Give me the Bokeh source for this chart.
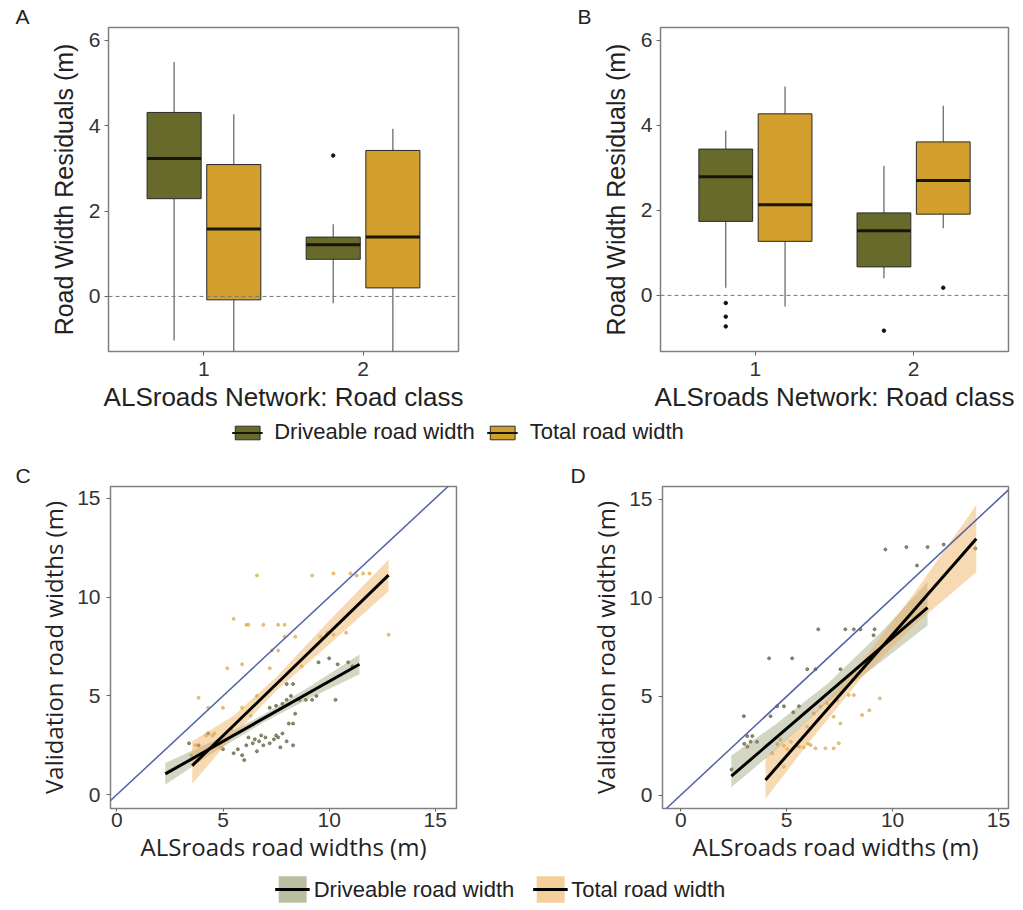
from bokeh.plotting import figure
from bokeh.layouts import column, row
from bokeh.models import (Range1d, FixedTicker, Span, Slope, Title, Legend,
                          LegendItem)
from bokeh.embed import file_html
from bokeh.resources import INLINE

# ---------------- data ----------------
classes = [1, 2]
series_names = ["Driveable road width", "Total road width"]
box_colors = ["#686A2C", "#D29E2C"]

# Panel A box statistics (per road class 1, 2)
a_drive_low = [-1.03, -0.16]
a_drive_q1 = [2.29, 0.87]
a_drive_med = [3.23, 1.21]
a_drive_q3 = [4.31, 1.39]
a_drive_high = [5.49, 1.69]
a_total_low = [-1.60, -1.60]
a_total_q1 = [-0.08, 0.20]
a_total_med = [1.58, 1.39]
a_total_q3 = [3.09, 3.42]
a_total_high = [4.27, 3.93]
a_drive_out_class = [2]
a_drive_out_y = [3.30]
a_total_out_class = []
a_total_out_y = []

# Panel B box statistics
b_drive_low = [0.18, 0.40]
b_drive_q1 = [1.74, 0.67]
b_drive_med = [2.79, 1.52]
b_drive_q3 = [3.44, 1.94]
b_drive_high = [3.87, 3.04]
b_total_low = [-0.26, 1.58]
b_total_q1 = [1.27, 1.91]
b_total_med = [2.13, 2.70]
b_total_q3 = [4.27, 3.61]
b_total_high = [4.91, 4.46]
b_drive_out_class = [1, 1, 1, 2]
b_drive_out_y = [-0.18, -0.50, -0.73, -0.83]
b_total_out_class = [2]
b_total_out_y = [0.18]

# Panel C scatter
c_drive_x = [3.4, 3.85, 4.3, 5.0, 5.5, 5.7, 5.9, 6.0, 6.1, 6.2, 6.4, 6.5, 6.6, 6.7, 6.9,
             7.0, 7.2, 7.4, 7.5, 7.7, 7.8, 8.0, 8.3, 8.1, 8.3, 8.4, 7.2, 7.5, 7.8, 8.0,
             8.2, 8.6, 8.9, 9.2, 9.4, 8.0, 8.3, 10.3, 10.0, 10.4, 10.9, 11.1, 9.5, 6.8, 7.6]
c_drive_y = [2.6, 2.5, 3.1, 2.3, 2.1, 2.3, 2.0, 1.75, 2.5, 2.9, 2.6, 2.8, 2.2, 2.7, 2.5,
             2.9, 2.6, 2.8, 3.0, 2.4, 3.1, 2.7, 2.5, 3.6, 3.6, 4.1, 4.4, 4.5, 4.6, 4.8,
             5.0, 4.8, 4.8, 4.8, 5.0, 5.6, 5.6, 4.8, 6.9, 6.6, 6.7, 6.5, 6.7, 3.0, 2.9]
c_total_x = [3.5, 3.7, 4.2, 4.5, 4.6, 4.9, 5.0, 5.4, 5.9, 6.3, 6.6, 7.2, 7.3, 7.6, 7.6,
             7.9, 7.9, 8.4, 9.6, 10.2, 10.8, 11.0, 11.3, 11.6, 11.9, 12.8, 5.5, 6.1, 6.2,
             6.9, 6.6, 9.2, 10.2, 5.2, 5.9, 3.85, 4.3, 8.7, 9.9]
c_total_y = [2.0, 2.5, 3.0, 3.0, 3.1, 2.4, 4.4, 3.3, 4.4, 4.0, 5.0, 6.4, 7.3, 7.3, 8.6,
             8.6, 8.0, 8.0, 8.0, 8.1, 8.2, 11.2, 11.1, 11.2, 11.2, 8.1, 8.9, 8.6, 8.6,
             8.6, 11.1, 11.1, 11.2, 6.4, 6.6, 4.9, 4.4, 6.5, 8.2]
c_drive_fit_x = [2.28, 11.43]
c_drive_fit_y = [1.05, 6.60]
c_total_fit_x = [3.55, 12.80]
c_total_fit_y = [1.47, 11.11]
c_drive_band_x = [2.28, 4.5, 6.9, 9.2, 11.43]
c_drive_band_lo = [0.50, 2.10, 3.65, 4.95, 6.10]
c_drive_band_hi = [1.60, 2.70, 4.05, 5.55, 7.10]
c_total_band_x = [3.55, 5.5, 7.5, 10.0, 12.8]
c_total_band_lo = [0.55, 3.00, 5.25, 7.60, 10.30]
c_total_band_hi = [2.70, 4.00, 5.95, 8.80, 11.90]

# Panel D scatter
d_drive_x = [2.98, 3.14, 3.38, 3.0, 3.15, 3.3, 3.6, 4.24, 4.17, 4.55, 4.87, 5.26, 5.31,
             5.58, 5.97, 6.36, 6.49, 7.54, 7.77, 8.17, 8.48, 9.1, 9.15, 9.66, 10.65,
             11.65, 11.15, 12.41, 13.9, 2.4]
d_drive_y = [4.0, 2.99, 2.99, 2.6, 2.45, 2.7, 2.7, 4.0, 6.93, 4.5, 4.5, 6.93, 4.2,
             4.5, 6.38, 6.38, 8.4, 6.38, 8.4, 8.4, 8.4, 8.1, 8.4, 12.45, 12.57,
             12.57, 11.64, 12.7, 12.5, 1.3]
d_total_x = [4.56, 4.87, 5.03, 5.5, 5.81, 6.13, 6.36, 6.83, 7.22, 7.46, 4.32, 4.87,
             6.28, 6.6, 7.22, 7.54, 7.93, 8.56, 8.17, 5.81, 5.97, 6.91, 7.38, 5.2,
             5.6, 6.0, 4.7, 9.4, 8.9]
d_total_y = [2.59, 2.5, 2.33, 2.5, 2.42, 2.54, 2.37, 2.37, 2.37, 2.63, 2.11, 1.44,
             4.14, 4.48, 3.97, 3.63, 5.07, 4.06, 5.07, 4.14, 3.47, 4.65, 4.82, 2.7,
             2.45, 2.6, 2.8, 4.9, 4.3]
d_drive_fit_x = [2.39, 11.65]
d_drive_fit_y = [0.96, 9.50]
d_total_fit_x = [4.00, 13.95]
d_total_fit_y = [0.76, 12.99]
d_drive_band_x = [2.39, 4.5, 7.0, 9.5, 11.65]
d_drive_band_lo = [0.40, 2.30, 4.75, 6.80, 8.60]
d_drive_band_hi = [2.00, 3.60, 5.70, 8.30, 10.80]
d_total_band_x = [4.00, 6.0, 8.5, 11.0, 13.95]
d_total_band_lo = [-0.20, 2.60, 5.90, 8.60, 11.30]
d_total_band_hi = [1.90, 3.80, 6.70, 10.20, 14.70]

box_ticks = [0, 2, 4, 6]
width_ticks = [0, 5, 10, 15]

# ---------------- style ----------------
DODGE = 0.1875
BOXW = 0.34
TICK_FONT = "Liberation Sans"
TITLE_FONT = "Liberation Sans"
SC_TITLE_FONT = "Open Sans"
band_colors = ["#8E9263", "#EDAE58"]
band_alphas = [0.38, 0.45]
point_colors = ["#55552E", "#D8A640"]


def style_axes(p, xt_size, yt_size):
    p.xgrid.visible = False
    p.ygrid.visible = False
    p.axis.axis_line_color = None
    p.axis.major_tick_line_color = "#666666"
    p.axis.major_tick_in = 0
    p.axis.major_tick_out = 4
    p.axis.minor_tick_line_color = None
    p.axis.major_label_text_font = TICK_FONT
    p.axis.major_label_text_font_size = "21px"
    p.axis.major_label_text_color = "#333333"
    p.axis.axis_label_text_font_style = "normal"
    p.axis.axis_label_text_color = "#222222"
    p.xaxis.axis_label_text_font_size = xt_size
    p.yaxis.axis_label_text_font_size = yt_size
    p.outline_line_color = "#808080"
    p.outline_line_width = 1.5


def panel_title(letter, off):
    return Title(text=letter, align="left", offset=off, standoff=0,
                 text_font=TICK_FONT, text_font_size="21px",
                 text_font_style="normal", text_color="#222222")


def box_panel(letter, stats, outs, yr, bl, fw, br, lab_off):
    p = figure(width=bl + fw + br, height=416, x_range=Range1d(0.4, 2.6),
               y_range=Range1d(*yr), toolbar_location=None, output_backend="svg",
               min_border_left=bl, min_border_right=br, min_border_top=27,
               min_border_bottom=65, title=panel_title(letter, lab_off))
    for k in range(2):
        low, q1, med, q3, high = stats[k]
        off = -DODGE if k == 0 else DODGE
        xs = [c + off for c in classes]
        p.segment(x0=xs, y0=q3, x1=xs, y1=high, line_color="#606060", line_width=1.2)
        p.segment(x0=xs, y0=q1, x1=xs, y1=low, line_color="#606060", line_width=1.2)
        p.vbar(x=xs, bottom=q1, top=q3, width=BOXW, fill_color=box_colors[k],
               line_color="#2a2a2a", line_width=1)
        p.segment(x0=[x - BOXW / 2 for x in xs], y0=med, x1=[x + BOXW / 2 for x in xs],
                  y1=med, line_color="#161605", line_width=3)
        oc, oy = outs[k]
        if oc:
            p.scatter(x=[c + off for c in oc], y=oy, size=3.5, color="#111111")
    p.add_layout(Span(location=0, dimension="width", line_color="#777777",
                      line_dash="4 3", line_width=1))
    p.xaxis.ticker = FixedTicker(ticks=classes)
    p.yaxis.ticker = FixedTicker(ticks=box_ticks)
    p.xaxis.axis_label = "ALSroads Network: Road class"
    p.yaxis.axis_label = "Road Width Residuals (m)"
    style_axes(p, "26px", "25px")
    p.xaxis.major_label_standoff = 6
    p.xaxis.axis_label_standoff = 3
    p.yaxis.major_label_standoff = 4
    p.yaxis.axis_label_standoff = 8
    p.axis.axis_label_text_font = TITLE_FONT
    return p


def scatter_panel(letter, pts, fits, bands, xr, yr, bl, br, lab_off):
    frame_w = 346
    p = figure(width=bl + frame_w + br, height=421, x_range=Range1d(*xr),
               y_range=Range1d(*yr), toolbar_location=None, output_backend="svg",
               min_border_left=bl, min_border_right=br, min_border_top=38,
               min_border_bottom=61, title=panel_title(letter, lab_off))
    for k in range(2):
        px, py = pts[k]
        p.scatter(x=px, y=py, size=3, color=point_colors[k], alpha=0.65)
    for k in range(2):
        bx, blo, bhi = bands[k]
        p.varea(x=bx, y1=blo, y2=bhi, fill_color=band_colors[k], fill_alpha=band_alphas[k])
    for k in range(2):
        fx, fy = fits[k]
        p.line(x=fx, y=fy, line_color="black", line_width=3)
    p.add_layout(Slope(gradient=1, y_intercept=0, line_color="#4E62A6", line_width=1.5))
    p.xaxis.ticker = FixedTicker(ticks=width_ticks)
    p.yaxis.ticker = FixedTicker(ticks=width_ticks)
    p.xaxis.axis_label = "ALSroads road widths (m)"
    p.yaxis.axis_label = "Validation road widths (m)"
    style_axes(p, "24px", "24px")
    p.xaxis.major_tick_out = 3
    p.xaxis.major_label_standoff = 1
    p.xaxis.axis_label_standoff = 0
    p.yaxis.major_label_standoff = 6
    p.yaxis.axis_label_standoff = 4
    p.axis.axis_label_text_font = SC_TITLE_FONT
    return p


pA = box_panel("A",
               [(a_drive_low, a_drive_q1, a_drive_med, a_drive_q3, a_drive_high),
                (a_total_low, a_total_q1, a_total_med, a_total_q3, a_total_high)],
               [(a_drive_out_class, a_drive_out_y), (a_total_out_class, a_total_out_y)],
               (-1.29, 6.3), 108, 350, 12, -93)
pB = box_panel("B",
               [(b_drive_low, b_drive_q1, b_drive_med, b_drive_q3, b_drive_high),
                (b_total_low, b_total_q1, b_total_med, b_total_q3, b_total_high)],
               [(b_drive_out_class, b_drive_out_y), (b_total_out_class, b_total_out_y)],
               (-1.32, 6.3), 190, 348, 10, -83)

pC = scatter_panel("C",
                   [(c_drive_x, c_drive_y), (c_total_x, c_total_y)],
                   [(c_drive_fit_x, c_drive_fit_y), (c_total_fit_x, c_total_fit_y)],
                   [(c_drive_band_x, c_drive_band_lo, c_drive_band_hi),
                    (c_total_band_x, c_total_band_lo, c_total_band_hi)],
                   (-0.3, 16.0), (-0.7, 15.6), 110, 10, -95)
pD = scatter_panel("D",
                   [(d_drive_x, d_drive_y), (d_total_x, d_total_y)],
                   [(d_drive_fit_x, d_drive_fit_y), (d_total_fit_x, d_total_fit_y)],
                   [(d_drive_band_x, d_drive_band_lo, d_drive_band_hi),
                    (d_total_band_x, d_total_band_lo, d_total_band_hi)],
                   (-0.86, 15.47), (-0.68, 15.64), 196, 8, -92)


def legend_fig(w, h, kind, gw, gh, spacing, standoff):
    # the legend's renderers draw the panel-A / panel-C data outside this
    # strip's visible range; only their legend keys show
    f = figure(width=w, height=h, toolbar_location=None, output_backend="svg",
               x_axis_type=None, y_axis_type=None, min_border=0,
               x_range=Range1d(-100, -99), y_range=Range1d(-100, -99))
    f.outline_line_color = None
    f.xgrid.visible = False
    f.ygrid.visible = False
    items = []
    box_q1 = [a_drive_q1, a_total_q1]
    box_q3 = [a_drive_q3, a_total_q3]
    box_med = [a_drive_med, a_total_med]
    bands = [(c_drive_band_x, c_drive_band_lo, c_drive_band_hi),
             (c_total_band_x, c_total_band_lo, c_total_band_hi)]
    fits = [(c_drive_fit_x, c_drive_fit_y), (c_total_fit_x, c_total_fit_y)]
    for k in range(2):
        if kind == "box":
            r1 = f.vbar(x=classes, bottom=box_q1[k], top=box_q3[k], width=BOXW,
                        fill_color=box_colors[k], line_color="#2a2a2a", line_width=1)
            r2 = f.segment(x0=classes, y0=box_med[k], x1=classes, y1=box_med[k],
                           line_color="#161605", line_width=2)
        else:
            bx, blo, bhi = bands[k]
            r1 = f.varea(x=bx, y1=blo, y2=bhi, fill_color=band_colors[k],
                         fill_alpha=0.6)
            fx, fy = fits[k]
            r2 = f.line(x=fx, y=fy, line_color="black", line_width=3)
        items.append(LegendItem(label=series_names[k], renderers=[r1, r2]))
    leg = Legend(items=items, orientation="horizontal", location="center",
                 glyph_width=gw, glyph_height=gh, spacing=spacing,
                 label_standoff=standoff, padding=0, margin=0,
                 background_fill_alpha=0, border_line_color=None,
                 label_text_font=TICK_FONT, label_text_font_size="22px",
                 label_text_color="#222222", label_height=gh)
    f.add_layout(leg)
    return f


leg1 = legend_fig(915, 32, "box", 31, 17, 12, 12)
leg2 = legend_fig(1000, 40, "band", 35, 33, 18, 4)

layout = column(row(pA, pB), leg1, row(pC, pD), leg2)

open("out.html", "w").write(file_html(layout, INLINE))
